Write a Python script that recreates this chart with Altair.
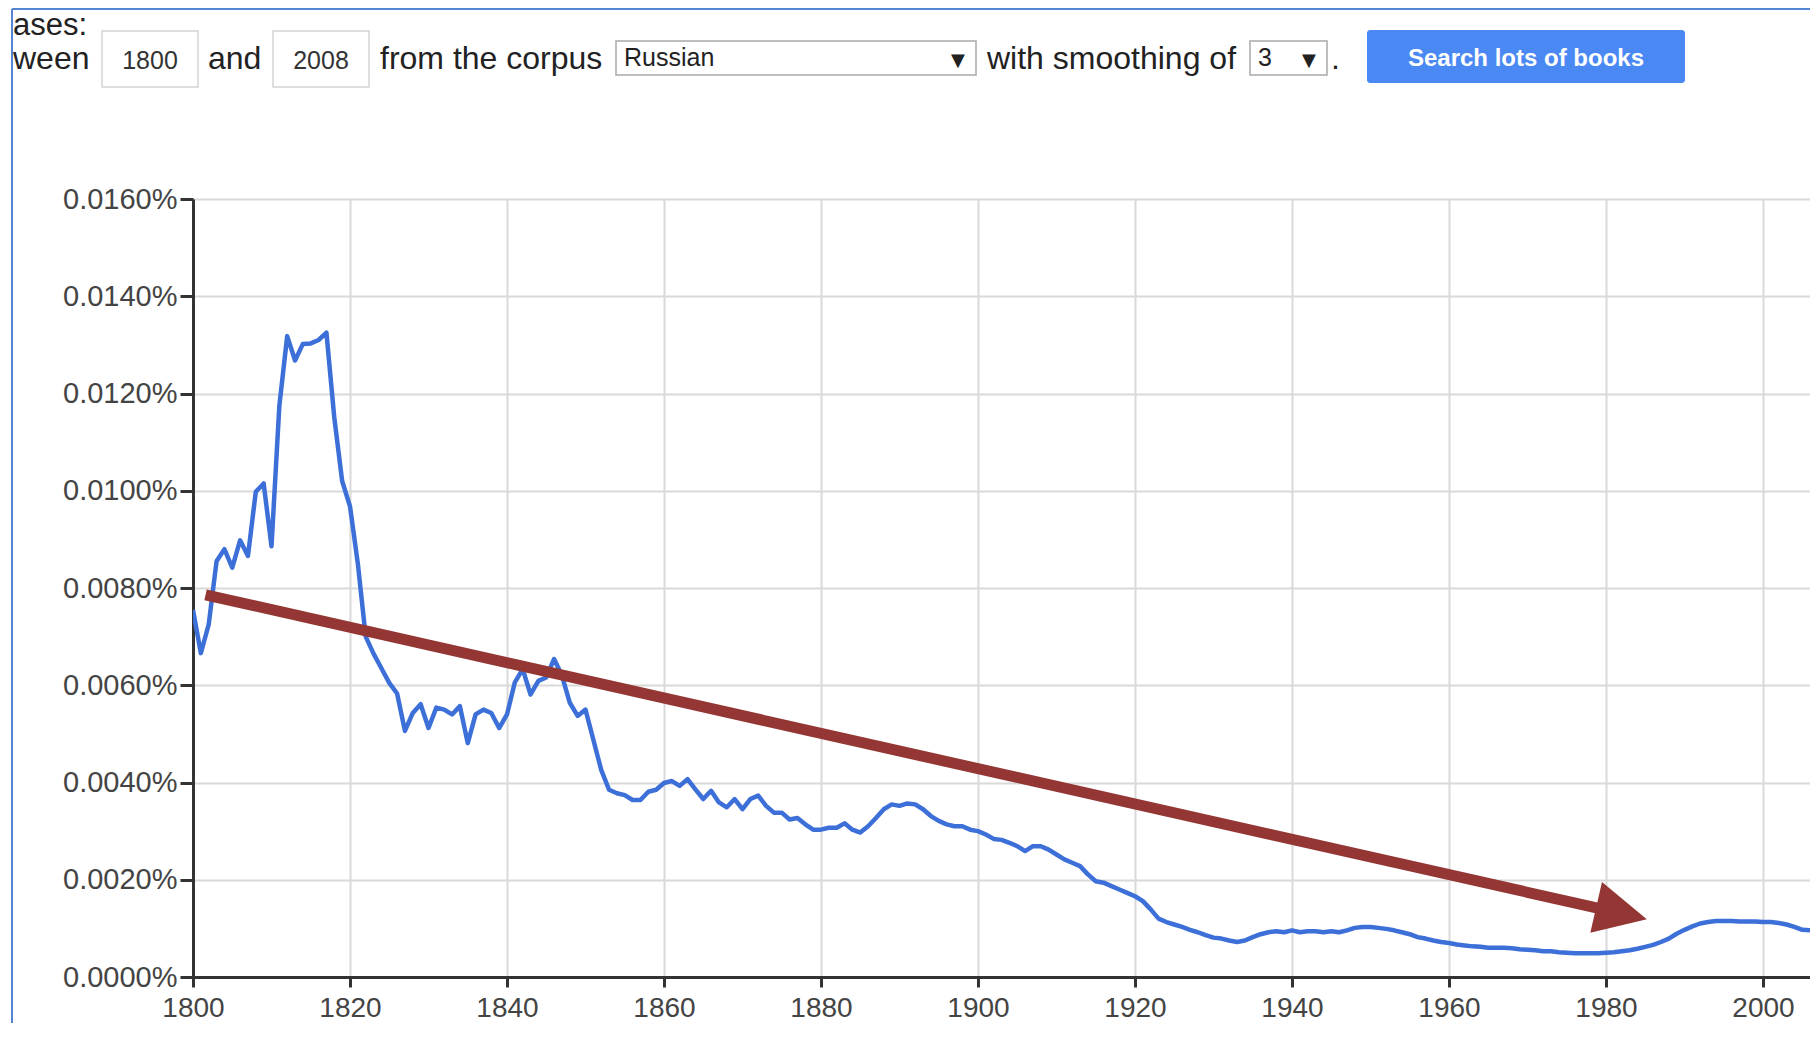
import altair as alt
import pandas as pd

# ---------------- data ----------------
years = list(range(1800, 2008))
freq = [
    0.00755, 0.00666, 0.00725, 0.00855, 0.00880, 0.00842, 0.00898, 0.00866, 0.00998, 0.01015,  # 1800
    0.00886, 0.01175, 0.01318, 0.01268, 0.01302, 0.01303, 0.01310, 0.01325, 0.01150, 0.01020,  # 1810
    0.00968, 0.00850, 0.00700, 0.00665, 0.00635, 0.00605, 0.00583, 0.00506, 0.00543, 0.00561,  # 1820
    0.00512, 0.00554, 0.00550, 0.00540, 0.00557, 0.00481, 0.00540, 0.00550, 0.00543, 0.00512,  # 1830
    0.00540, 0.00606, 0.00633, 0.00581, 0.00609, 0.00616, 0.00654, 0.00620, 0.00564, 0.00537,  # 1840
    0.00550, 0.00488, 0.00426, 0.00385, 0.00378, 0.00374, 0.00364, 0.00364, 0.00381, 0.00385,  # 1850
    0.00399, 0.00403, 0.00393, 0.00407, 0.00386, 0.00366, 0.00383, 0.00359, 0.00349, 0.00366,  # 1860
    0.00345, 0.00366, 0.00373, 0.00352, 0.00338, 0.00338, 0.00324, 0.00327, 0.00314, 0.00303,  # 1870
    0.00303, 0.00307, 0.00307, 0.00316, 0.00303, 0.00297, 0.00310, 0.00327, 0.00345, 0.00355,  # 1880
    0.00352, 0.00357, 0.00355, 0.00345, 0.00331, 0.00321, 0.00314, 0.00310, 0.00310, 0.00303,  # 1890
    0.00300, 0.00293, 0.00284, 0.00282, 0.00276, 0.00269, 0.00259, 0.00269, 0.00269, 0.00262,  # 1900
    0.00252, 0.00242, 0.00235, 0.00228, 0.00211, 0.00197, 0.00194, 0.00187, 0.00180, 0.00173,  # 1910
    0.00166, 0.00156, 0.00139, 0.00120, 0.00113, 0.00108, 0.00103, 0.00097, 0.00092, 0.00086,  # 1920
    0.00081, 0.00079, 0.00075, 0.00072, 0.00075, 0.00082, 0.00088, 0.00092, 0.00094, 0.00092,  # 1930
    0.00096, 0.00092, 0.00094, 0.00094, 0.00092, 0.00094, 0.00092, 0.00096, 0.00101, 0.00103,  # 1940
    0.00103, 0.00101, 0.00099, 0.00096, 0.00092, 0.00088, 0.00082, 0.00079, 0.00075, 0.00072,  # 1950
    0.00070, 0.00067, 0.00065, 0.00063, 0.00062, 0.00060, 0.00060, 0.00060, 0.00059, 0.00057,  # 1960
    0.00056, 0.00055, 0.00053, 0.00053, 0.00051, 0.00050, 0.00049, 0.00049, 0.00049, 0.00049,  # 1970
    0.00050, 0.00051, 0.00053, 0.00055, 0.00058, 0.00062, 0.00066, 0.00072, 0.00079, 0.00089,  # 1980
    0.00097, 0.00104, 0.00110, 0.00113, 0.00115, 0.00115, 0.00115, 0.00114, 0.00114, 0.00114,  # 1990
    0.00113, 0.00113, 0.00111, 0.00108, 0.00103, 0.00097, 0.00096, 0.00096,                    # 2000
]

x_ticks = [1800, 1820, 1840, 1860, 1880, 1900, 1920, 1940, 1960, 1980, 2000]
y_ticks = [0.0, 0.002, 0.004, 0.006, 0.008, 0.010, 0.012, 0.014, 0.016]

# annotation arrow (data units)
arrow_years = [1801.6, 1980.5]
arrow_vals = [0.00786, 0.00136]
head_year = [1985.2]
head_val = [0.00119]

# header (screenshot of the query form)
header_words = ["ases:", "ween", "and", "from the corpus", "with smoothing of", "."]
box_values = ["1800", "2008"]
corpus_label = "Russian"
smoothing_label = "3"
button_label = "Search lots of books"

# ---------------- layout ----------------
W, H = 1617, 778
X_MAX = 1800 + W / 7.85
OX, OY = 193, 199          # plot origin on the page

FONT_AXIS = "Liberation Sans, Arial, sans-serif"
FONT_HEAD = "Liberation Sans, Arial, sans-serif"
BLUE = "#3c6fd7"
RED = "#943634"
FRAME = "#5485d4"
TXT = "#222222"


def px(x):
    return x - OX


def py(y):
    return y - OY


one = alt.Data(values=[{"k": 0}])


def text_layer(s, x, y, size, align="left", color=TXT, weight="normal", font=FONT_HEAD):
    return alt.Chart(one).mark_text(
        align=align, baseline="alphabetic", fontSize=size, font=font,
        color=color, fontWeight=weight
    ).encode(x=alt.value(px(x)), y=alt.value(py(y)), text=alt.value(s))


def rect_layer(x1, y1, x2, y2, fill, stroke=None, sw=1.5, radius=0):
    kw = dict(fill=fill, cornerRadius=radius)
    if stroke:
        kw["stroke"] = stroke
        kw["strokeWidth"] = sw
    return alt.Chart(one).mark_rect(**kw).encode(
        x=alt.value(px(x1)), x2=alt.value(px(x2)),
        y=alt.value(py(y1)), y2=alt.value(py(y2)))


def rule_layer(x1, y1, x2, y2, color, w):
    return alt.Chart(one).mark_rule(color=color, strokeWidth=w).encode(
        x=alt.value(px(x1)), x2=alt.value(px(x2)),
        y=alt.value(py(y1)), y2=alt.value(py(y2)))


# ---------------- scales / axes ----------------
xs = alt.Scale(domain=[1800, X_MAX], nice=False, zero=False)
ys = alt.Scale(domain=[0, 0.016], nice=False, zero=True)

xaxis = alt.Axis(
    values=x_ticks, format="d", title=None, grid=True,
    gridColor="#d9d9d9", gridWidth=2,
    domainColor="#333333", domainWidth=3,
    tickColor="#333333", tickWidth=3, tickSize=10,
    labelFont=FONT_AXIS, labelFontSize=28, labelColor="#444444",
    labelPadding=7, labelFlush=False,
)
yaxis = alt.Axis(
    values=y_ticks, title=None, grid=True,
    labelExpr="format(datum.value, '.4f') + '%'",
    gridColor="#d9d9d9", gridWidth=2,
    domainColor="#333333", domainWidth=3,
    tickColor="#333333", tickWidth=3, tickSize=13,
    labelFont=FONT_AXIS, labelFontSize=29, labelColor="#444444",
    labelPadding=3,
)


def X():
    return alt.X("year:Q", scale=xs, axis=xaxis)


def Y():
    return alt.Y("freq:Q", scale=ys, axis=yaxis)


df = pd.DataFrame({"year": years, "freq": freq})
line = alt.Chart(df).mark_line(
    color=BLUE, strokeWidth=4.5, clip=True, strokeJoin="round"
).encode(x=X(), y=Y())

arrow_df = pd.DataFrame({"year": arrow_years, "freq": arrow_vals})
shaft = alt.Chart(arrow_df).mark_line(
    color=RED, strokeWidth=11, strokeCap="butt"
).encode(x=X(), y=Y())

head_df = pd.DataFrame({"year": head_year, "freq": head_val})
head = alt.Chart(head_df).mark_point(
    shape="M0,0L-2,-1L-2,1Z", filled=True, size=2704, angle=13,
    color=RED, opacity=1
).encode(x=X(), y=Y())

# ---------------- header ----------------
header = [
    rule_layer(12, 9, 1818, 9, FRAME, 2),
    rule_layer(12, 9, 12, 1040, FRAME, 2),
    text_layer(header_words[0], 13, 35, 31),
    text_layer(header_words[1], 13, 69, 32),
    rect_layer(102, 31, 198, 87, "#ffffff", "#d4d4d4"),
    text_layer(box_values[0], 150, 69, 25, align="center", color="#333333"),
    text_layer(header_words[2], 208, 69, 32),
    rect_layer(273, 31, 369, 87, "#ffffff", "#d4d4d4"),
    text_layer(box_values[1], 321, 69, 25, align="center", color="#333333"),
    text_layer(header_words[3], 380, 69, 32),
    rect_layer(616, 41, 976, 75, "#ffffff", "#a9a9a9"),
    text_layer(corpus_label, 624, 66, 25),
    text_layer("\u25bc", 958, 66, 18, align="center", font="DejaVu Sans"),
    text_layer(header_words[4], 987, 69, 32),
    rect_layer(1250, 41, 1327, 75, "#ffffff", "#a9a9a9"),
    text_layer(smoothing_label, 1258, 66, 25),
    text_layer("\u25bc", 1309, 66, 18, align="center", font="DejaVu Sans"),
    text_layer(header_words[5], 1331, 69, 32),
    rect_layer(1367, 30, 1685, 83, "#4a89f3", radius=3),
    text_layer(button_label, 1526, 66, 24, align="center", color="#ffffff", weight="bold"),
]

chart = alt.layer(line, shaft, head, *header).properties(
    width=W, height=H,
    padding={"left": 185, "top": 191, "right": 0, "bottom": 46},
    autosize=alt.AutoSizeParams(type="none"),
    background="#ffffff",
).configure_view(strokeWidth=0)

chart.save("out.html", embed_options={"renderer": "svg", "actions": False})
